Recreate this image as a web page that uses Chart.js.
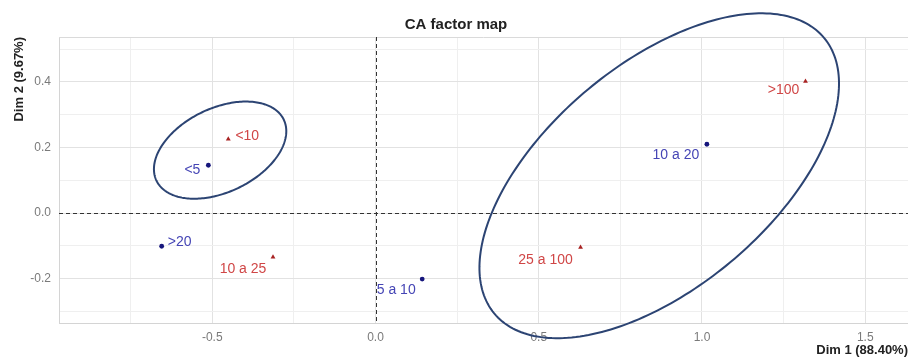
<!DOCTYPE html>
<html>
<head>
<meta charset="utf-8">
<script src="https://cdn.jsdelivr.net/npm/chart.js@4/dist/chart.umd.min.js"></script>
<style>
  html, body { margin: 0; padding: 0; background: #ffffff; overflow: hidden; }
  #wrap { width: 912px; height: 358px; }
</style>
</head>
<body>
<div id="wrap"><canvas id="ca"></canvas></div>
<script>
// Row categories (blue dots)
const rowNames = ['<5', '5 a 10', '10 a 20', '>20'];
const rowDim1 = [-0.512, 0.143, 1.015, -0.655];
const rowDim2 = [0.146, -0.201, 0.210, -0.101];

// Column categories (red triangles)
const colNames = ['<10', '10 a 25', '25 a 100', '>100'];
const colDim1 = [-0.451, -0.314, 0.628, 1.317];
const colDim2 = [0.226, -0.134, -0.104, 0.402];

// Grouping ellipses: centre, semi-axes (data units) and tilt in degrees
const ellipseCx = [-0.476, 0.869];
const ellipseCy = [0.192, 0.114];
const ellipseA = [0.216, 0.657];
const ellipseB = [0.128, 0.342];
const ellipseAngle = [25.4, 39.7];

// Axis titles
const xTitle = 'Dim 1 (88.40%)';
const yTitle = 'Dim 2 (9.67%)';
const chartTitle = 'CA factor map';

// Label placement relative to each point, in pixels
const labelNudge = {
  '<5': [-16, 5], '5 a 10': [-26, 11], '10 a 20': [-31, 11], '>20': [18, -4],
  '<10': [19, -3], '10 a 25': [-30, 12], '25 a 100': [-35, 13], '>100': [-22, 9]
};

const BLUE_PT = '#16167c', BLUE_TXT = '#4545b5';
const RED_PT = '#a82222', RED_TXT = '#d04646';
const ELLIPSE_COL = '#2c4473';
const FONT = "'Liberation Sans', Arial, sans-serif";

const isMultiple = (v, step) => Math.abs(v / step - Math.round(v / step)) < 1e-6;

const refLines = {
  id: 'refLines',
  beforeDatasetsDraw(chart) {
    const {ctx, chartArea: a, scales: {x, y}} = chart;
    ctx.save();
    // panel top edge
    ctx.strokeStyle = '#dadada';
    ctx.lineWidth = 1;
    ctx.beginPath();
    ctx.moveTo(a.left, a.top + 0.5);
    ctx.lineTo(a.right, a.top + 0.5);
    ctx.stroke();
    // dashed origin lines
    ctx.strokeStyle = '#333333';
    ctx.setLineDash([4, 3]);
    const x0 = Math.round(x.getPixelForValue(0)) + 0.5;
    const y0 = Math.round(y.getPixelForValue(0)) + 0.5;
    ctx.beginPath();
    ctx.moveTo(x0, a.top); ctx.lineTo(x0, a.bottom);
    ctx.moveTo(a.left, y0); ctx.lineTo(a.right, y0);
    ctx.stroke();
    ctx.restore();
  }
};

const pointLabels = {
  id: 'pointLabels',
  afterDatasetsDraw(chart) {
    const {ctx} = chart;
    ctx.save();
    ctx.font = '14px ' + FONT;
    ctx.textAlign = 'center';
    ctx.textBaseline = 'middle';
    chart.data.datasets.forEach((ds, i) => {
      const meta = chart.getDatasetMeta(i);
      ctx.fillStyle = ds.labelColor;
      meta.data.forEach((el, j) => {
        const name = ds.names[j];
        const [dx, dy] = labelNudge[name] || [0, -10];
        ctx.fillText(name, el.x + dx, el.y + dy);
      });
    });
    ctx.restore();
  }
};

const ellipses = {
  id: 'ellipses',
  afterDraw(chart) {
    const {ctx, scales: {x, y}} = chart;
    ctx.save();
    ctx.strokeStyle = ELLIPSE_COL;
    ctx.lineWidth = 2;
    for (let k = 0; k < ellipseCx.length; k++) {
      const th = ellipseAngle[k] * Math.PI / 180;
      const c = Math.cos(th), s = Math.sin(th);
      ctx.beginPath();
      for (let i = 0; i <= 240; i++) {
        const t = i / 240 * 2 * Math.PI;
        const u = ellipseA[k] * Math.cos(t), v = ellipseB[k] * Math.sin(t);
        const px = x.getPixelForValue(ellipseCx[k] + u * c - v * s);
        const py = y.getPixelForValue(ellipseCy[k] + u * s + v * c);
        if (i === 0) ctx.moveTo(px, py); else ctx.lineTo(px, py);
      }
      ctx.closePath();
      ctx.stroke();
    }
    ctx.restore();
  }
};

const gridColor = step => ctx => isMultiple(ctx.tick.value, step) ? '#e2e2e2' : '#efefef';

new Chart(document.getElementById('ca'), {
  type: 'scatter',
  data: {
    datasets: [
      {
        names: rowNames,
        labelColor: BLUE_TXT,
        data: rowDim1.map((v, i) => ({x: v, y: rowDim2[i]})),
        pointStyle: 'circle',
        pointRadius: 2.4,
        backgroundColor: BLUE_PT,
        borderColor: BLUE_PT,
        borderWidth: 0
      },
      {
        names: colNames,
        labelColor: RED_TXT,
        data: colDim1.map((v, i) => ({x: v, y: colDim2[i]})),
        pointStyle: 'triangle',
        pointRadius: 2.8,
        backgroundColor: RED_PT,
        borderColor: RED_PT,
        borderWidth: 0
      }
    ]
  },
  options: {
    responsive: true,
    maintainAspectRatio: false,
    animation: false,
    layout: { padding: 0 },
    plugins: {
      legend: { display: false },
      tooltip: { enabled: false },
      title: {
        display: true,
        text: chartTitle,
        color: '#222222',
        font: { family: FONT, size: 15, weight: 'bold' },
        padding: { top: 16, bottom: 3 }
      }
    },
    scales: {
      x: {
        type: 'linear',
        min: -0.9695,
        max: 1.631,
        afterFit: s => { s.height = 35; },
        ticks: {
          stepSize: 0.25,
          includeBounds: false,
          autoSkip: false,
          maxRotation: 0,
          padding: 7,
          color: '#7a7a7a',
          font: { family: FONT, size: 12 },
          callback: v => isMultiple(v, 0.5) ? v.toFixed(1) : ''
        },
        grid: { color: gridColor(0.5), drawTicks: false },
        border: { display: true, color: '#d4d4d4' },
        title: {
          display: true,
          text: xTitle,
          align: 'end',
          color: '#222222',
          font: { family: FONT, size: 13, weight: 'bold' },
          padding: { top: 0, bottom: 0 }
        }
      },
      y: {
        type: 'linear',
        min: -0.335,
        max: 0.537,
        afterFit: s => { s.width = 59; },
        ticks: {
          stepSize: 0.1,
          includeBounds: false,
          autoSkip: false,
          padding: 8,
          color: '#7a7a7a',
          font: { family: FONT, size: 12 },
          callback: v => isMultiple(v, 0.2) ? v.toFixed(1) : ''
        },
        grid: { color: gridColor(0.2), drawTicks: false },
        border: { display: true, color: '#d4d4d4' },
        title: {
          display: true,
          text: yTitle,
          align: 'end',
          color: '#222222',
          font: { family: FONT, size: 13, weight: 'bold' },
          padding: { top: 12, bottom: 0 }
        }
      }
    }
  },
  plugins: [refLines, pointLabels, ellipses]
});
</script>
</body>
</html>
